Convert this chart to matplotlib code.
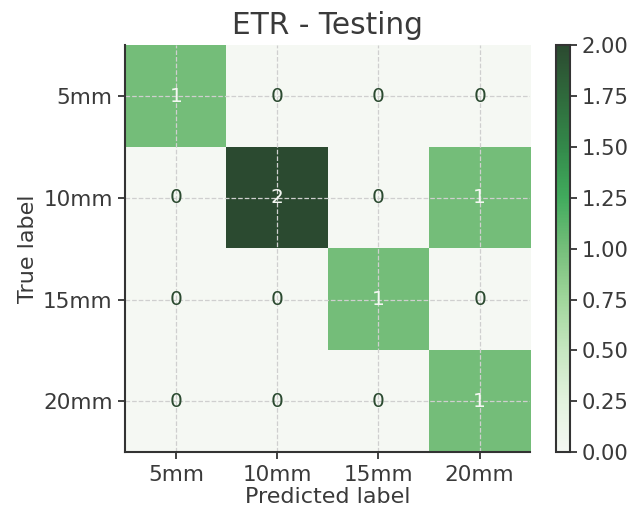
import numpy as np
import matplotlib
matplotlib.use('Agg')
import matplotlib.pyplot as plt
import matplotlib.colors as mcolors

# confusion matrix values (rows = true, cols = predicted)
labels = ["5mm", "10mm", "15mm", "20mm"]
cm = np.array([
    [1, 0, 0, 0],
    [0, 2, 0, 1],
    [0, 0, 1, 0],
    [0, 0, 0, 1],
])
cbar_ticks = [0.0, 0.25, 0.5, 0.75, 1.0, 1.25, 1.5, 1.75, 2.0]

TEXT = '#3a3a3a'
plt.rcParams['font.family'] = 'DejaVu Sans'
plt.rcParams['text.color'] = TEXT
plt.rcParams['axes.labelcolor'] = TEXT
plt.rcParams['xtick.color'] = TEXT
plt.rcParams['ytick.color'] = TEXT

# muted "Greens" look
cmap = mcolors.LinearSegmentedColormap.from_list("muted_greens", [
    (0.0, '#f5f8f3'),
    (0.125, '#e3f2de'),
    (0.25, '#c6e6c0'),
    (0.375, '#a0d69b'),
    (0.5, '#75be7a'),
    (0.625, '#41ab5d'),
    (0.75, '#33894a'),
    (0.875, '#2f6a3c'),
    (1.0, '#2b4a30'),
])

fig = plt.figure(figsize=(6.42, 5.08), dpi=100)
ax = fig.add_axes([0.195, 0.110, 0.631, 0.801])
cax = fig.add_axes([0.866, 0.110, 0.022, 0.801])

im = ax.imshow(cm, cmap=cmap, vmin=0, vmax=2, interpolation='nearest', aspect='auto')

thresh = (cm.max() + cm.min()) / 2.0
for i in range(cm.shape[0]):
    for j in range(cm.shape[1]):
        color = cmap(1.0) if cm[i, j] < thresh else cmap(0.0)
        ax.text(j, i, str(cm[i, j]), ha='center', va='center', color=color, fontsize=14.5)

ax.set_xticks(range(len(labels)))
ax.set_xticklabels(labels)
ax.set_yticks(range(len(labels)))
ax.set_yticklabels(labels)
ax.tick_params(labelsize=15.5, length=5, width=1.3, color='#333333', pad=4)
ax.set_xlabel("Predicted label", fontsize=16, labelpad=2)
ax.set_ylabel("True label", fontsize=16)
ax.set_title("ETR - Testing", fontsize=21.3, pad=8)

ax.grid(True, linestyle='--', color='#cfcfcf', linewidth=0.9)
for side in ['top', 'right']:
    ax.spines[side].set_visible(False)
for side in ['left', 'bottom']:
    ax.spines[side].set_color('#333333')
    ax.spines[side].set_linewidth(1.5)

cb = fig.colorbar(im, cax=cax, ticks=cbar_ticks)
cb.ax.tick_params(labelsize=15.2, length=5, width=1.3, color='#333333')
cb.ax.set_yticklabels([f"{t:.2f}" for t in cbar_ticks])
cb.outline.set_edgecolor('#333333')
cb.outline.set_linewidth(1.5)

fig.savefig('out.png', dpi=100)
plt.close(fig)
